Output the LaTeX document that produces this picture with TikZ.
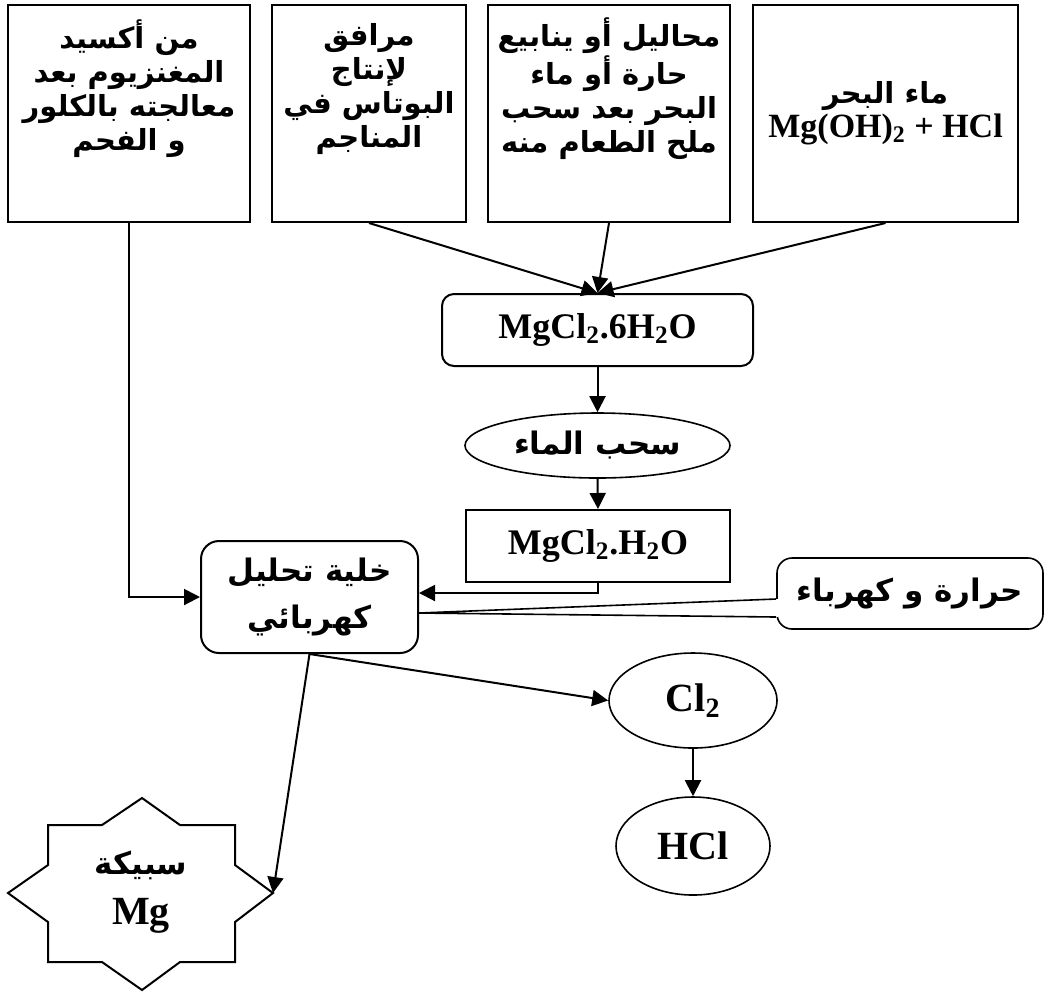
\documentclass[tikz,border=0pt]{standalone}
\usepackage{fontspec}
\usetikzlibrary{shapes.geometric,arrows.meta}
\setmainfont{Liberation Serif}
\newfontfamily\arabicfont[Script=Arabic]{DejaVu Sans}
\TeXXeTstate=1
\newcommand{\artext}[1]{{\arabicfont\bfseries\beginR #1\endR}}
\newcommand{\chemsub}[1]{\textsubscript{#1}}
\tikzset{
  srcbox/.style={draw, line width=1pt, minimum height=108.5pt, align=center,
    font=\fontsize{14.5pt}{17pt}\selectfont},
  formula/.style={font=\bfseries\fontsize{18pt}{22pt}\selectfont},
  bigformula/.style={font=\bfseries\fontsize{20pt}{24pt}\selectfont},
  roundbox/.style={draw, line width=1pt, rounded corners=6pt, formula},
  plainbox/.style={draw, line width=1pt, formula},
  oval/.style={draw, ellipse, line width=0.8pt, inner sep=0pt},
  cellbox/.style={draw, line width=1pt, rounded corners=9pt, align=center,
    minimum width=108.5pt, minimum height=56pt,
    font=\fontsize{15.5pt}{23.5pt}\selectfont},
  heatbox/.style={draw, fill=white, line width=0.8pt, rounded corners=7.5pt,
    minimum width=133pt, minimum height=35.5pt, font=\fontsize{15.5pt}{18pt}\selectfont},
  arr/.style={line width=1pt, -{Triangle[length=8pt,width=8pt]}}
}
\begin{document}
\begin{tikzpicture}[x=0.5pt, y=-0.5pt]
	\useasboundingbox (0,0) rectangle (1052,992);
	%% sources
	\node[srcbox, minimum width=121pt, text depth=28pt] (src1) at (129,113.5)
		{\artext{من أكسيد}\\\artext{المغنزيوم بعد}\\\artext{معالجته بالكلور}\\\artext{و الفحم}};
	\node[srcbox, minimum width=97pt, text depth=28pt] (src2) at (369,113.5)
		{\artext{مرافق}\\\artext{لإنتاج}\\\artext{البوتاس في}\\\artext{المناجم}};
	\node[srcbox, minimum width=121pt, text depth=28pt] (src3) at (609,113.5)
		{\artext{محاليل أو ينابيع}\\\artext{حارة أو ماء}\\\artext{البحر بعد سحب}\\\artext{ملح الطعام منه}};
	\node[srcbox, minimum width=132.5pt] (src4) at (885.5,113.5)
		{\artext{ماء البحر}\\{\bfseries\fontsize{17pt}{19pt}\selectfont Mg(OH)\chemsub{2} + HCl}};
	%% steps
	\node[roundbox, minimum width=155.5pt, minimum height=36pt] (hexa) at (597.5,330) {MgCl\chemsub{2}.6H\chemsub{2}O};
	\node[oval, minimum width=132.5pt, minimum height=32.5pt, font=\fontsize{15.5pt}{18pt}\selectfont] (dehyd) at (597.5,445.5) {\artext{سحب الماء}};
	\node[plainbox, minimum width=132pt, minimum height=36pt] (mono) at (598,546) {MgCl\chemsub{2}.H\chemsub{2}O};
	\node[cellbox] (cell) at (309.5,597) {\artext{خلية تحليل}\\\artext{كهربائي}};
	\node[heatbox] (heat) at (910,593.5) {\artext{حرارة و كهرباء}};
	\node[oval, bigformula, minimum width=84pt, minimum height=47.5pt] (cl2) at (693,700.5) {Cl\chemsub{2}};
	\node[oval, bigformula, minimum width=77pt, minimum height=49pt] (hcl) at (693,846) {HCl};
	%% alloy star
	\draw[line width=1pt] (142,798) -- (102,825) -- (48,825) -- (48,865) -- (8,893) -- (48,922)
		-- (48,962) -- (102,962) -- (142,990) -- (180,962) -- (235,962) -- (235,922)
		-- (273,893) -- (235,865) -- (235,825) -- (180,825) -- cycle;
	\coordinate (alloytip) at (273,893);
	\node[align=center, font=\bfseries\fontsize{20pt}{25pt}\selectfont] (alloy) at (141,892)
		{{\fontsize{15.5pt}{25pt}\selectfont\artext{سبيكة}}\\Mg};
	%% pointer of the heat box
	\coordinate (heattip) at ([yshift=-8pt]cell.east);
	\fill[white] ([xshift=1pt,yshift=-2.75pt]heat.west) rectangle ([xshift=-1pt,yshift=-11.75pt]heat.west);
	\draw[line width=0.8pt] ([yshift=-2.75pt]heat.west) -- (heattip) -- ([yshift=-11.75pt]heat.west);
	%%% arrows
	\draw[arr] (src1.south) |- (cell.west);
	\draw[arr] (src2.south) -- (hexa.north);
	\draw[arr] (src3.south) -- (hexa.north);
	\draw[arr] (src4.south) -- (hexa.north);
	\draw[arr] (hexa.south) -- (dehyd.north);
	\draw[arr] (dehyd.south) -- (mono.north);
	\draw[arr] (mono.south) |- ([yshift=2pt]cell.east);
	\draw[arr] (cell.south) -- (alloytip);
	\draw[arr] (cell.south) -- (cl2.west);
	\draw[arr] (cl2.south) -- (hcl.north);
\end{tikzpicture}
\end{document}
